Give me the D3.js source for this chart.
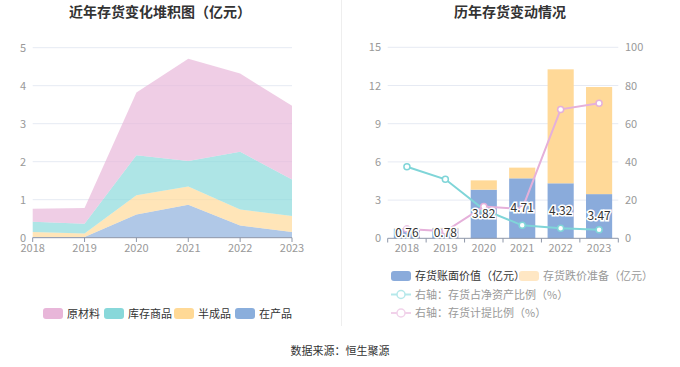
<!DOCTYPE html>
<html><head><meta charset="utf-8">
<script src="https://cdn.jsdelivr.net/npm/d3@7"></script>
<style>body{margin:0;background:#fff}svg{display:block;font-family:"Noto Sans CJK SC","Noto Sans",sans-serif}</style>
</head><body><svg id="c" width="680" height="367"></svg>
<script>
const years = ["2018","2019","2020","2021","2022","2023"];
// left: stacked areas (亿元)
const zaichanpin = [0.02,0.02,0.61,0.87,0.32,0.15];
const banchengpin = [0.13,0.09,0.51,0.48,0.42,0.42];
const kucunshangpin = [0.27,0.26,1.05,0.67,1.52,0.96];
const yuancailiao = [0.34,0.41,1.65,2.69,2.06,1.94];
const leftTicks = [0,1,2,3,4,5];
// right: bars and lines
const zhangmian = [0.76,0.78,3.82,4.71,4.32,3.47];
const dieJia = [0.04,0.04,0.73,0.84,8.95,8.41];
const jingZiChanBili = [37.5,30.9,15.0,6.8,5.2,4.5];
const jiTiBili = [4.9,3.7,16.6,15.4,67.5,70.7];
const rightLeftTicks = [0,3,6,9,12,15];
const rightRightTicks = [0,20,40,60,80,100];

const svg = d3.select("#c");
const gridC = "#e6eaf3", tickC = "#999", axisC = "#8e97a8";

// titles
svg.append("text").attr("x",160).attr("y",17).attr("text-anchor","middle").attr("font-size",14).attr("font-weight","bold").attr("fill","#333").text("近年存货变化堆积图（亿元）");
svg.append("text").attr("x",510).attr("y",17).attr("text-anchor","middle").attr("font-size",14).attr("font-weight","bold").attr("fill","#333").text("历年存货变动情况");
svg.append("line").attr("x1",341.5).attr("x2",341.5).attr("y1",0).attr("y2",326).attr("stroke","#eee");

// ---- left chart
const xL = d3.scalePoint().domain(years).range([32.7,292]);
const yL = d3.scaleLinear().domain([0,5]).range([237.7,47.7]);
const gL = svg.append("g");
leftTicks.forEach(t=>{
  if(t>0) gL.append("line").attr("x1",32.7).attr("x2",292).attr("y1",yL(t)).attr("y2",yL(t)).attr("stroke",gridC);
  gL.append("text").attr("x",26).attr("y",yL(t)+4).attr("text-anchor","end").attr("font-size",11).attr("fill",tickC).text(t);
});
const keys = ["zaichanpin","banchengpin","kucunshangpin","yuancailiao"];
const src = {zaichanpin,banchengpin,kucunshangpin,yuancailiao};
const rows = years.map((y,i)=>{const r={year:y}; keys.forEach(k=>r[k]=src[k][i]); return r;});
const stack = d3.stack().keys(keys)(rows);
const colL = {zaichanpin:"#8aaedc",banchengpin:"#ffd996",kucunshangpin:"#88d8da",yuancailiao:"#e8b6d9"};
const area = d3.area().x(d=>xL(d.data.year)).y0(d=>yL(d[0])).y1(d=>yL(d[1]));
stack.forEach(s=>{
  gL.append("path").attr("d",area(s)).attr("fill",colL[s.key]).attr("fill-opacity",0.68);
});
gL.append("line").attr("x1",32.7).attr("x2",292).attr("y1",237.7).attr("y2",237.7).attr("stroke",axisC);
years.forEach(y=>{
  gL.append("line").attr("x1",xL(y)).attr("x2",xL(y)).attr("y1",237.7).attr("y2",242).attr("stroke",axisC);
  gL.append("text").attr("x",xL(y)).attr("y",252).attr("text-anchor","middle").attr("font-size",11).attr("fill",tickC).text(y);
});
const legL = [["原材料","yuancailiao",43],["库存商品","kucunshangpin",104],["半成品","banchengpin",174],["在产品","zaichanpin",235]];
legL.forEach(([n,k,x])=>{
  gL.append("rect").attr("x",x).attr("y",308).attr("width",20).attr("height",11).attr("rx",3).attr("fill",colL[k]);
  gL.append("text").attr("x",x+24).attr("y",317.5).attr("font-size",11).attr("fill","#333").text(n);
});

// ---- right chart
const xR = d3.scaleBand().domain(years).range([387.7,618.3]).paddingInner(0.32).paddingOuter(0.16);
const yR = d3.scaleLinear().domain([0,15]).range([238.3,47.3]);
const yR2 = d3.scaleLinear().domain([0,100]).range([238.3,47.3]);
const gR = svg.append("g");
rightLeftTicks.forEach((t,i)=>{
  if(t>0) gR.append("line").attr("x1",387.7).attr("x2",618.3).attr("y1",yR(t)).attr("y2",yR(t)).attr("stroke",gridC);
  gR.append("text").attr("x",381).attr("y",yR(t)+4).attr("text-anchor","end").attr("font-size",11).attr("fill",tickC).text(t);
});
rightRightTicks.forEach(t=>{
  gR.append("text").attr("x",625).attr("y",yR2(t)+4).attr("text-anchor","start").attr("font-size",11).attr("fill",tickC).text(t);
});
years.forEach((y,i)=>{
  gR.append("rect").attr("x",xR(y)).attr("width",xR.bandwidth()).attr("y",yR(zhangmian[i])).attr("height",yR(0)-yR(zhangmian[i])).attr("fill","#8aabdb");
  gR.append("rect").attr("x",xR(y)).attr("width",xR.bandwidth()).attr("y",yR(zhangmian[i]+dieJia[i])).attr("height",yR(zhangmian[i])-yR(zhangmian[i]+dieJia[i])).attr("fill","#ffd998");
});
gR.append("line").attr("x1",387.7).attr("x2",618.3).attr("y1",238.3).attr("y2",238.3).attr("stroke",axisC);
const step = xR.step();
d3.range(7).forEach(i=>{
  const x = 387.7 + i*(230.6/6);
  gR.append("line").attr("x1",x).attr("x2",x).attr("y1",238.3).attr("y2",242.5).attr("stroke",axisC);
});
years.forEach(y=>{
  gR.append("text").attr("x",xR(y)+xR.bandwidth()/2).attr("y",252).attr("text-anchor","middle").attr("font-size",11).attr("fill",tickC).text(y);
});
const cx = y=>xR(y)+xR.bandwidth()/2;
const lineGen = d3.line().x((d,i)=>cx(years[i])).y(d=>yR2(d));
const drawLine=(data,c)=>{
  gR.append("path").attr("d",lineGen(data)).attr("fill","none").attr("stroke",c).attr("stroke-width",2);
  data.forEach((d,i)=>gR.append("circle").attr("cx",cx(years[i])).attr("cy",yR2(d)).attr("r",3).attr("fill","#fff").attr("stroke",c).attr("stroke-width",1.5));
};
drawLine(jingZiChanBili,"#7fd5d8");
drawLine(jiTiBili,"#e5b0da");
years.forEach((y,i)=>{
  gR.append("text").attr("x",cx(y)).attr("y",yR(zhangmian[i]/2)+4).attr("text-anchor","middle").attr("font-size",12)
    .attr("fill","#333").attr("stroke","#fff").attr("stroke-width",3).attr("paint-order","stroke").text(zhangmian[i].toFixed(2));
});
// right legend
gR.append("rect").attr("x",391).attr("y",271).attr("width",20).attr("height",10).attr("rx",3).attr("fill","#8aabdb");
gR.append("text").attr("x",415).attr("y",280).attr("font-size",11).attr("fill","#333").text("存货账面价值（亿元）");
gR.append("rect").attr("x",519).attr("y",271).attr("width",20).attr("height",10).attr("rx",3).attr("fill","#ffe7c4");
gR.append("text").attr("x",543).attr("y",280).attr("font-size",11).attr("fill","#999").text("存货跌价准备（亿元）");
[["右轴：存货占净资产比例（%）","#b5e8ea",294.5],["右轴：存货计提比例（%）","#f1d2ea",313]].forEach(([n,c,y])=>{
  gR.append("line").attr("x1",391).attr("x2",411).attr("y1",y).attr("y2",y).attr("stroke",c).attr("stroke-width",2);
  gR.append("circle").attr("cx",401).attr("cy",y).attr("r",4).attr("fill","#fff").attr("stroke",c).attr("stroke-width",1.5);
  gR.append("text").attr("x",415).attr("y",y+4).attr("font-size",11).attr("fill","#999").text(n);
});
svg.append("text").attr("x",340).attr("y",355).attr("text-anchor","middle").attr("font-size",11).attr("fill","#333").text("数据来源：恒生聚源");
</script></body></html>
